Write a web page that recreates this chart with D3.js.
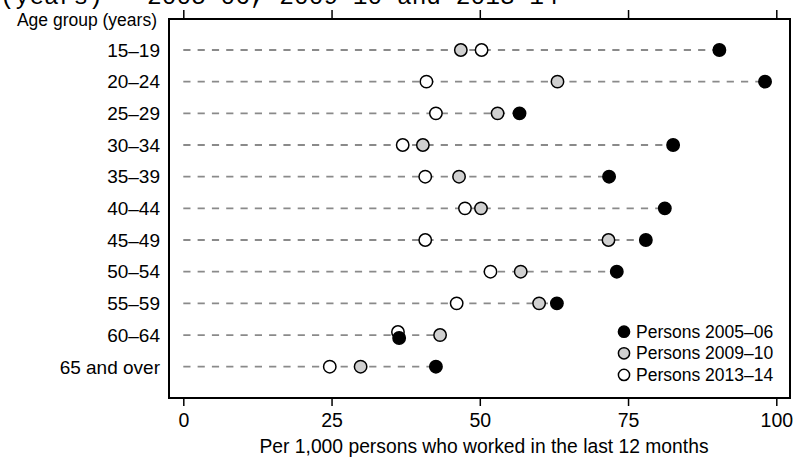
<!DOCTYPE html>
<html>
<head>
<meta charset="utf-8">
<script src="https://cdn.jsdelivr.net/npm/d3@7"></script>
<style>
  body { margin: 0; background: #fff; }
  text { font-family: "Liberation Sans", Arial, sans-serif; fill: #000; }
</style>
</head>
<body>
<div id="chart"></div>
<script>
const ageGroups = ['15–19', '20–24', '25–29', '30–34', '35–39', '40–44', '45–49', '50–54', '55–59', '60–64', '65 and over']
const persons0506 = [90.4, 98.1, 56.7, 82.6, 71.8, 81.2, 78.0, 73.1, 63.0, 36.4, 42.6]
const persons0910 = [46.8, 63.1, 53.0, 40.4, 46.5, 50.2, 71.7, 56.9, 60.0, 43.3, 29.9]
const persons1314 = [50.3, 41.0, 42.6, 37.0, 40.8, 47.5, 40.8, 51.8, 46.1, 36.2, 24.7]
const seriesNames = ['Persons 2005–06', 'Persons 2009–10', 'Persons 2013–14']
const xTicks = [0, 25, 50, 75, 100]

const width = 797
const height = 457
const box = { left: 169, right: 790, top: 19, bottom: 398 }

const fills = {
  'Persons 2005–06': '#000',
  'Persons 2009–10': '#d0d0d0',
  'Persons 2013–14': '#fff'
}

const svg = d3.select('#chart')
  .append('svg')
    .attr('width', width)
    .attr('height', height)

const x = d3.scaleLinear().domain([0, 100]).range([183.3, 776.3])
const y = d3.scalePoint().domain(ageGroups).range([50, 366.7])

// title is cut off at the top of the picture
svg.append('text')
  .attr('x', 0)
  .attr('y', 4)
  .style('font-family', '"Liberation Mono", monospace')
  .style('font-size', '24.5px')
  .text('(years) - 2005-06, 2009-10 and 2013-14')

const rows = ageGroups.map((g, i) => ({
  group: g,
  values: [persons0506[i], persons0910[i], persons1314[i]]
}))

// dashed guide from zero to the largest value of the row
svg.append('g')
  .selectAll('line')
  .data(rows)
  .join('line')
    .attr('x1', x(0))
    .attr('x2', d => x(d3.max(d.values)))
    .attr('y1', d => y(d.group))
    .attr('y2', d => y(d.group))
    .style('stroke', '#8a8a8a')
    .style('stroke-width', 1.8)
    .style('stroke-dasharray', '7.2,7.1')

// draw 2013-14 first, then 2009-10, then 2005-06 on top
const order = [2, 1, 0]
order.forEach(s => {
  svg.append('g')
    .selectAll('circle')
    .data(rows)
    .join('circle')
      .attr('cx', d => x(d.values[s]))
      .attr('cy', d => {
        const close = Math.abs(d.values[0] - d.values[2]) < 1
        if (close && s === 2) return y(d.group) - 3
        if (close && s === 0) return y(d.group) + 3
        return y(d.group)
      })
      .attr('r', 6.2)
      .style('fill', fills[seriesNames[s]])
      .style('stroke', '#000')
      .style('stroke-width', 1.5)
})

svg.append('rect')
  .attr('x', box.left)
  .attr('y', box.top)
  .attr('width', box.right - box.left)
  .attr('height', box.bottom - box.top)
  .style('fill', 'none')
  .style('stroke', '#000')
  .style('stroke-width', 2)

const topAxis = svg.append('g')
  .attr('transform', `translate(0, ${box.top})`)
  .call(d3.axisTop(x).tickValues(xTicks).tickSize(9).tickFormat(''))
topAxis.select('.domain').remove()
topAxis.selectAll('line').style('stroke-width', 1.5)

const bottomAxis = svg.append('g')
  .attr('transform', `translate(0, ${box.bottom})`)
  .call(d3.axisBottom(x).tickValues(xTicks).tickSize(8))
bottomAxis.select('.domain').remove()
bottomAxis.selectAll('line').style('stroke-width', 1.5)
bottomAxis.selectAll('text')
  .attr('y', 28.5)
  .attr('dy', 0)
  .style('font-family', '"Liberation Sans", Arial, sans-serif')
  .style('font-size', '19.5px')
  .style('fill', '#000')

svg.append('text')
  .attr('x', 484)
  .attr('y', 453)
  .attr('text-anchor', 'middle')
  .style('font-size', '19.3px')
  .text('Per 1,000 persons who worked in the last 12 months')

svg.append('g')
  .selectAll('text')
  .data(ageGroups)
  .join('text')
    .attr('x', 160)
    .attr('y', d => y(d))
    .attr('dy', 6.8)
    .attr('text-anchor', 'end')
    .style('font-size', '19px')
    .text(d => d)

svg.append('text')
  .attr('x', 157)
  .attr('y', 26)
  .attr('text-anchor', 'end')
  .style('font-size', '17.5px')
  .text('Age group (years)')

const legend = svg.append('g')
  .selectAll('g')
  .data(seriesNames)
  .join('g')
    .attr('transform', (d, i) => `translate(624, ${331.7 + i * 21.6})`)

legend.append('circle')
  .attr('r', 5.6)
  .style('fill', d => fills[d])
  .style('stroke', '#000')
  .style('stroke-width', 1.5)

legend.append('text')
  .attr('x', 12)
  .attr('dy', 6)
  .style('font-size', '17.5px')
  .text(d => d)
</script>
</body>
</html>
